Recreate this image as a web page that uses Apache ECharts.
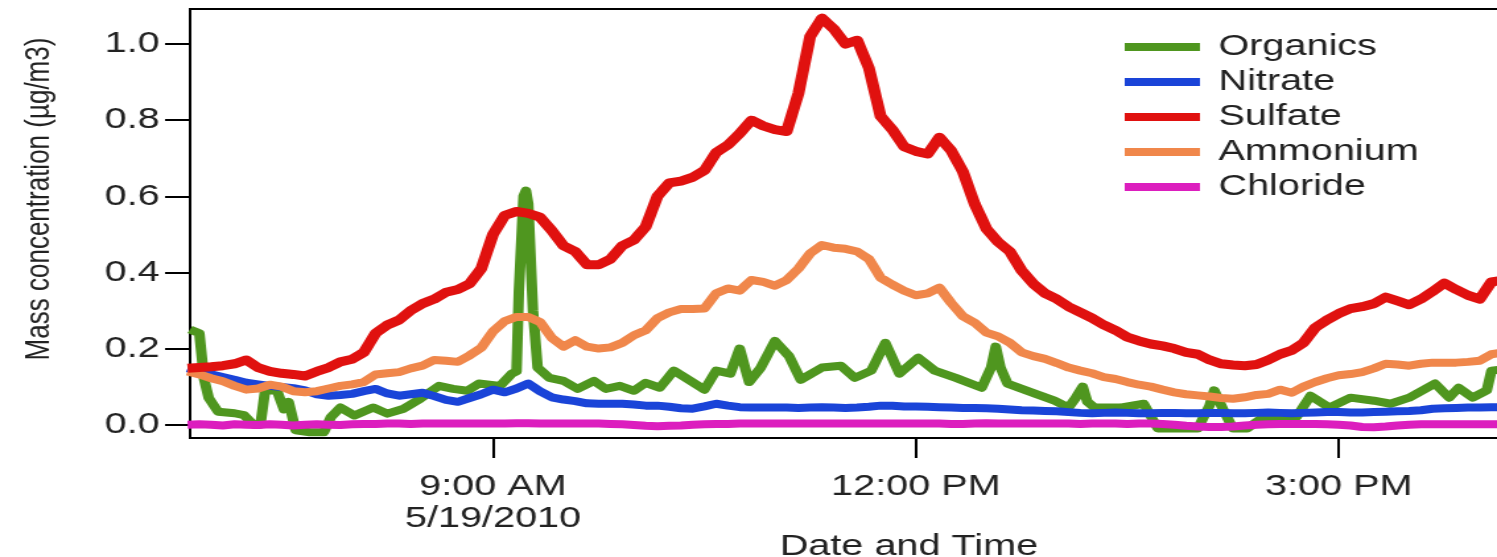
<!DOCTYPE html>
<html><head><meta charset="utf-8">
<script src="https://cdn.jsdelivr.net/npm/echarts@6/dist/echarts.min.js"></script>
<style>
html,body{margin:0;padding:0;background:#fff;overflow:hidden;}
#wrap{width:1497px;height:557px;overflow:hidden;position:relative;background:#fff;}
#chart{width:1134px;height:557px;transform:scaleX(1.3201);transform-origin:0 0;}
</style></head><body><div id="wrap"><div id="chart"></div></div>
<script>
// ---------- data ----------
const times = ["6:50","6:55","7:00","7:05","7:10","7:15","7:20","7:25","7:30","7:35","7:40","7:45","7:50","7:55",
"8:00","8:05","8:10","8:15","8:20","8:25","8:30","8:35","8:40","8:45","8:50","8:55",
"9:00","9:05","9:10","9:15","9:20","9:25","9:30","9:35","9:40","9:45","9:50","9:55",
"10:00","10:05","10:10","10:15","10:20","10:25","10:30","10:35","10:40","10:45","10:50","10:55",
"11:00","11:05","11:10","11:15","11:20","11:25","11:30","11:35","11:40","11:45","11:50","11:55",
"12:00","12:05","12:10","12:15","12:20","12:25","12:30","12:35","12:40","12:45","12:50","12:55",
"13:00","13:05","13:10","13:15","13:20","13:25","13:30","13:35","13:40","13:45","13:50","13:55",
"14:00","14:05","14:10","14:15","14:20","14:25","14:30","14:35","14:40","14:45","14:50","14:55",
"15:00","15:05","15:10","15:15","15:20","15:25","15:30","15:35","15:40","15:45","15:50","15:55",
"16:00","16:05","16:10"];

const sulfate = [0.148,0.150,0.152,0.155,0.160,0.170,0.150,0.140,0.135,0.132,0.128,0.140,0.150,0.165,
0.172,0.190,0.240,0.262,0.275,0.300,0.318,0.330,0.348,0.355,0.370,0.410,
0.500,0.550,0.560,0.555,0.545,0.510,0.470,0.455,0.420,0.420,0.435,0.470,
0.485,0.520,0.600,0.635,0.640,0.650,0.668,0.715,0.735,0.765,0.800,0.785,
0.775,0.770,0.870,1.020,1.068,1.040,1.000,1.010,0.937,0.810,0.775,0.730,
0.718,0.711,0.755,0.720,0.665,0.580,0.515,0.480,0.455,0.405,0.370,0.345,
0.330,0.310,0.295,0.280,0.262,0.248,0.230,0.220,0.212,0.207,0.200,0.190,
0.185,0.170,0.160,0.157,0.155,0.158,0.170,0.185,0.195,0.215,0.255,0.275,
0.292,0.305,0.310,0.318,0.335,0.325,0.315,0.330,0.350,0.372,0.355,0.340,
0.330,0.375,0.380];

const ammonium = [0.140,0.132,0.122,0.114,0.102,0.092,0.095,0.105,0.100,0.088,0.085,0.088,0.095,0.102,
0.106,0.112,0.132,0.135,0.138,0.148,0.155,0.170,0.168,0.165,0.182,0.202,
0.245,0.272,0.283,0.283,0.270,0.228,0.205,0.222,0.205,0.200,0.203,0.215,
0.235,0.248,0.280,0.295,0.304,0.304,0.305,0.345,0.358,0.352,0.380,0.375,
0.365,0.380,0.410,0.450,0.472,0.465,0.462,0.455,0.435,0.386,0.368,0.352,
0.340,0.345,0.360,0.320,0.285,0.268,0.242,0.232,0.215,0.190,0.180,0.173,
0.162,0.150,0.142,0.135,0.125,0.120,0.112,0.105,0.100,0.092,0.085,0.080,
0.077,0.074,0.070,0.068,0.072,0.078,0.081,0.092,0.084,0.100,0.112,0.122,
0.130,0.133,0.138,0.148,0.160,0.158,0.155,0.160,0.163,0.163,0.163,0.165,
0.168,0.185,0.190];

const nitrate = [0.148,0.140,0.132,0.125,0.118,0.110,0.106,0.102,0.099,0.096,0.090,0.080,0.076,0.078,
0.081,0.088,0.094,0.082,0.076,0.080,0.084,0.075,0.065,0.060,0.070,0.080,
0.092,0.085,0.095,0.108,0.088,0.072,0.066,0.062,0.056,0.055,0.055,0.055,
0.053,0.050,0.050,0.047,0.043,0.042,0.048,0.055,0.050,0.046,0.045,0.045,
0.045,0.045,0.044,0.045,0.046,0.045,0.044,0.045,0.047,0.050,0.050,0.048,
0.048,0.047,0.046,0.045,0.044,0.044,0.043,0.042,0.040,0.038,0.037,0.036,
0.035,0.033,0.031,0.030,0.031,0.032,0.031,0.030,0.030,0.031,0.031,0.030,
0.030,0.031,0.031,0.030,0.030,0.031,0.032,0.031,0.030,0.031,0.032,0.033,
0.033,0.032,0.032,0.033,0.034,0.035,0.036,0.038,0.042,0.043,0.044,0.045,
0.045,0.046,0.046];

const chloride = [0.000,0.001,0.000,-0.002,0.001,0.000,-0.001,0.001,0.000,-0.002,0.000,0.001,0.000,-0.001,
0.001,0.002,0.002,0.003,0.003,0.002,0.003,0.003,0.003,0.003,0.003,0.003,
0.003,0.003,0.004,0.004,0.003,0.003,0.003,0.003,0.003,0.003,0.002,0.001,
-0.001,-0.003,-0.004,-0.003,-0.002,0.000,0.001,0.002,0.002,0.003,0.003,0.003,
0.003,0.003,0.003,0.003,0.003,0.003,0.003,0.003,0.003,0.003,0.003,0.003,
0.003,0.003,0.003,0.002,0.002,0.003,0.004,0.003,0.003,0.003,0.003,0.003,
0.003,0.003,0.002,0.003,0.003,0.003,0.002,0.003,0.003,0.002,0.000,-0.003,
-0.005,-0.006,-0.006,-0.005,-0.002,0.000,0.001,0.002,0.002,0.002,0.002,0.001,
0.000,-0.002,-0.006,-0.007,-0.005,-0.002,0.000,0.001,0.001,0.001,0.001,0.001,
0.001,0.001,0.001];

const organics = [["6:51",0.25],["6:55",0.24],["6:57",0.12],["6:59",0.07],["7:03",0.034],["7:10",0.03],["7:14",0.025],
["7:18",0.0],["7:21",0.0],["7:23",0.09],["7:28",0.09],["7:31",0.04],["7:33",0.06],["7:36",-0.015],["7:42",-0.02],
["7:48",-0.02],["7:51",0.02],["7:55",0.045],["8:01",0.024],["8:09",0.045],["8:15",0.029],["8:22",0.042],["8:29",0.068],
["8:37",0.102],["8:43",0.094],["8:49",0.089],["8:54",0.108],["9:03",0.102],["9:08",0.134],["9:10",0.14],["9:11",0.35],
["9:13",0.60],["9:14",0.615],["9:15",0.58],["9:17",0.30],["9:19",0.15],["9:24",0.123],["9:30",0.115],["9:36",0.094],
["9:43",0.115],["9:48",0.094],["9:54",0.102],["10:00",0.089],["10:05",0.11],["10:11",0.097],["10:17",0.142],
["10:22",0.123],["10:30",0.092],["10:35",0.142],["10:41",0.134],["10:45",0.20],["10:49",0.112],["10:54",0.15],
["11:00",0.22],["11:06",0.18],["11:11",0.118],["11:20",0.15],["11:28",0.155],["11:34",0.123],["11:41",0.142],
["11:47",0.215],["11:53",0.134],["12:01",0.176],["12:08",0.142],["12:17",0.123],["12:28",0.097],["12:32",0.15],
["12:34",0.205],["12:36",0.15],["12:39",0.108],["12:51",0.081],["12:59",0.063],["13:05",0.045],["13:08",0.07],
["13:11",0.10],["13:13",0.06],["13:16",0.045],["13:27",0.045],["13:37",0.055],["13:43",-0.01],["14:00",-0.01],
["14:05",0.05],["14:07",0.09],["14:11",0.037],["14:15",-0.01],["14:21",-0.01],["14:28",0.02],["14:42",0.02],
["14:48",0.076],["14:56",0.045],["15:05",0.071],["15:15",0.063],["15:22",0.055],["15:30",0.071],["15:41",0.108],
["15:47",0.071],["15:51",0.097],["15:57",0.071],["16:03",0.09],["16:05",0.142],["16:10",0.145]];

const legendNames = ["Organics","Nitrate","Sulfate","Ammonium","Chloride"];
const xTickValues = [9, 12, 15];
const xTickLabels = ["9:00 AM\n5/19/2010", "12:00 PM", "3:00 PM"];
const yTickValues = [0, 0.2, 0.4, 0.6, 0.8, 1.0];

// ---------- build ----------
const toHour = t => { const p = t.split(':').map(Number); return p[0] + p[1] / 60; };
const pairs = vals => times.map((t, i) => [toHour(t), vals[i]]);
const FONT = '"Liberation Sans", Arial, sans-serif';
const colors = {Organics:'#4f961f', Nitrate:'#1a44d8', Sulfate:'#e0110f', Ammonium:'#f0874b', Chloride:'#dc1ebe'};

function mk(name, data, width) {
  return {name, type:'line', data, showSymbol:false, symbol:'none', animation:false,
    lineStyle:{width: width, color: colors[name], join:'round'}, itemStyle:{color: colors[name]}};
}

const chart = echarts.init(document.getElementById('chart'));
chart.setOption({
  backgroundColor:'#fff',
  animation:false,
  grid:{left:144, right:-99, top:9, bottom:119, show:true, borderColor:'#000', borderWidth:2,
    outerBoundsMode:'none', containLabel:false},
  legend:{orient:'vertical', left:852, top:32, padding:0, itemGap:5, itemWidth:57, itemHeight:8, icon:'rect',
    data:legendNames, textStyle:{fontSize:30, fontFamily:FONT, color:'#222', lineHeight:30, padding:[0,0,0,9]}},
  graphic:[{type:'text', x:30, y:199, rotation:Math.PI/2,
    style:{text:'Mass concentration (µg/m3)', fontSize:26, fontFamily:FONT, fill:'#222', align:'center', verticalAlign:'middle'}}],
  xAxis:{type:'value', min:6.851, max:17.05,
    axisLine:{show:true, onZero:false, lineStyle:{color:'#000', width:2}},
    splitLine:{show:false},
    axisTick:{show:true, customValues:xTickValues, length:20, lineStyle:{color:'#000', width:2}},
    axisLabel:{customValues:xTickValues, margin:33, fontSize:30, lineHeight:32, fontFamily:FONT, color:'#222',
      formatter: v => { const i = xTickValues.indexOf(Math.round(v)); return i >= 0 ? xTickLabels[i] : ''; }},
    name:'Date and Time', nameLocation:'middle', nameGap:94, nameMoveOverlap:false,
    nameTextStyle:{fontSize:30, fontFamily:FONT, color:'#222'}},
  yAxis:{type:'value', min:-0.035, max:1.092,
    axisLine:{show:true, onZero:false, lineStyle:{color:'#000', width:2}},
    splitLine:{show:false},
    axisTick:{show:true, customValues:yTickValues, length:19, lineStyle:{color:'#000', width:2}},
    axisLabel:{customValues:yTickValues, margin:23, fontSize:30, fontFamily:FONT, color:'#222',
      formatter: v => v.toFixed(1)}},
  series:[
    mk('Organics', organics.map(d => [toHour(d[0]), d[1]]), 8),
    mk('Nitrate', pairs(nitrate), 8),
    mk('Ammonium', pairs(ammonium), 8),
    mk('Sulfate', pairs(sulfate), 9),
    mk('Chloride', pairs(chloride), 8)
  ]
});
</script></body></html>
